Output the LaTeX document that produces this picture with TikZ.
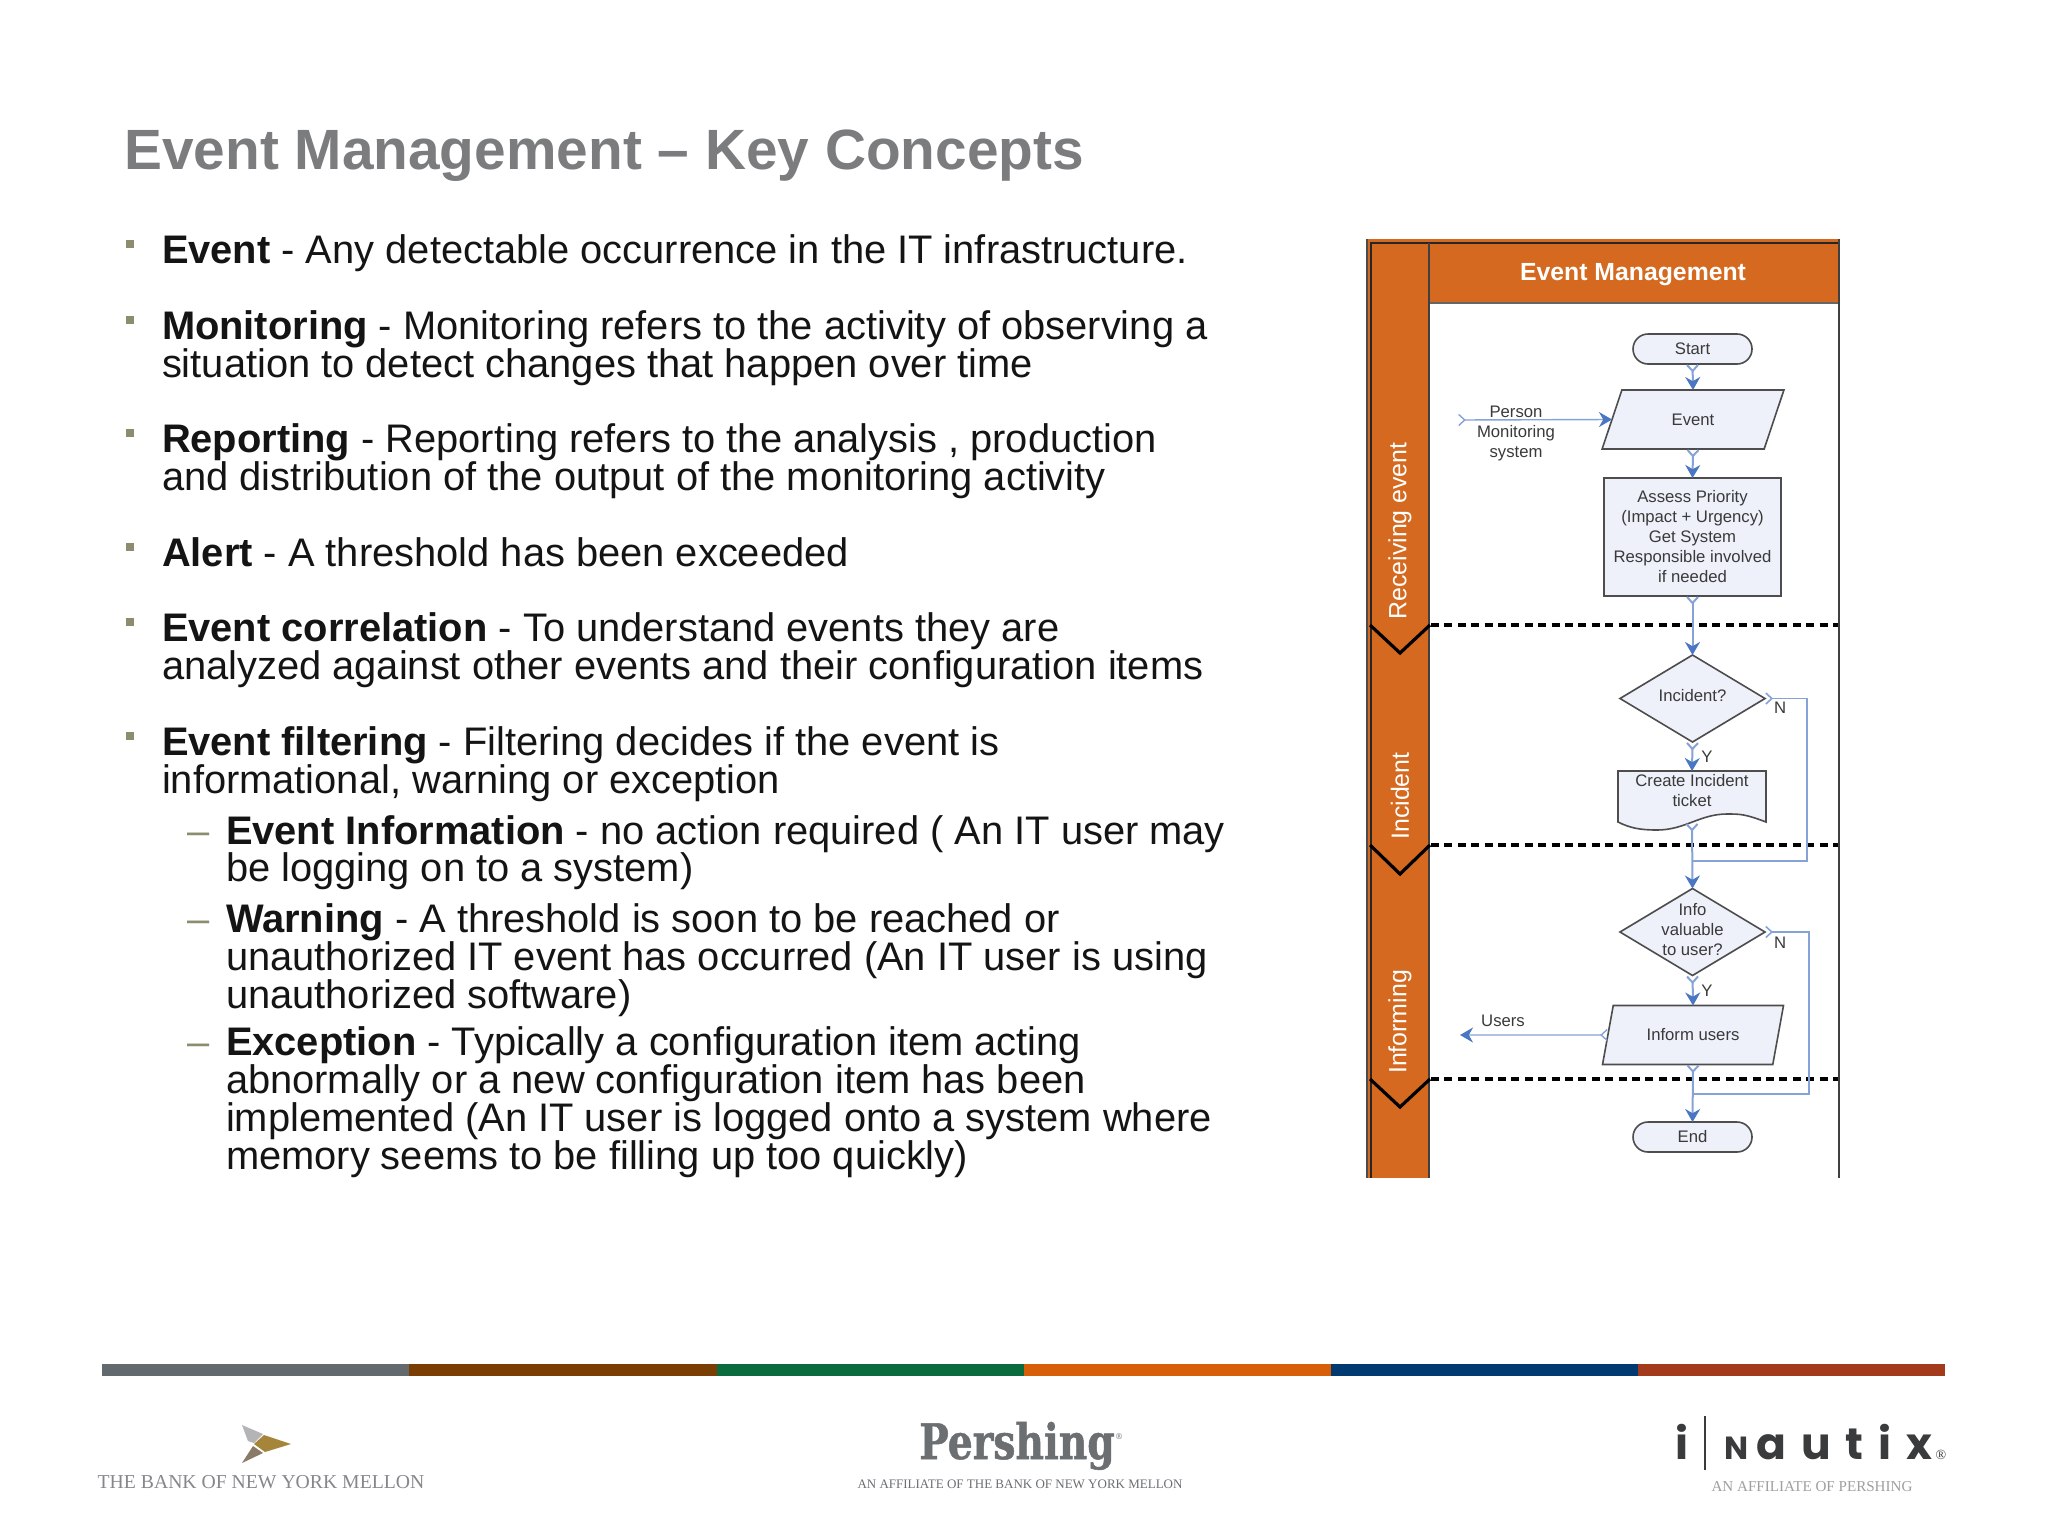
\documentclass[tikz,border=0pt]{standalone}
\usepackage{fontspec}
\setmainfont{Liberation Sans}
\newfontfamily\logoserif{Liberation Serif}
\newfontfamily\slabfont[FakeStretch=0.8,FakeBold=1]{DejaVu Serif Bold}
\newfontfamily\slabsmall{DejaVu Serif}
\newfontfamily\nautixfont{Poppins}
\usetikzlibrary{shapes.geometric,shapes.misc,arrows.meta}
\definecolor{titlegray}{HTML}{7A7C7E}
\definecolor{bodyblack}{HTML}{141414}
\definecolor{bulletc}{HTML}{8C8C6E}
\definecolor{laneorange}{HTML}{D4691F}
\definecolor{shapefill}{HTML}{EEF0FA}
\definecolor{shapeline}{HTML}{4D4D4D}
\definecolor{flowc}{HTML}{86A3D8}
\definecolor{tipc}{HTML}{4A77C4}
\definecolor{flowtext}{HTML}{3A3A3A}
\definecolor{logogray}{HTML}{85878A}
\definecolor{pershgray}{HTML}{6B6F72}
\definecolor{barA}{HTML}{636A6D}
\definecolor{barB}{HTML}{7A3E05}
\definecolor{barC}{HTML}{0B6B3F}
\definecolor{barD}{HTML}{D85F0A}
\definecolor{barE}{HTML}{003A70}
\definecolor{barF}{HTML}{A33A1C}
\definecolor{wingA}{HTML}{B4B4B6}
\definecolor{wingB}{HTML}{A5853A}
\definecolor{wingC}{HTML}{8A7B68}
\definecolor{nautixc}{HTML}{3A3B3D}
\tikzset{
  x=0.5pt,y=-0.5pt,
  bodyline/.style={anchor=base west,inner sep=0pt,outer sep=0pt,yshift=-0.65pt,text=bodyblack,font=\fontsize{19.93}{22}\selectfont},
  bulletmark/.style={fill=bulletc,draw=none,minimum size=3.6pt,inner sep=0pt,outer sep=0pt},
  dashmark/.style={anchor=base west,inner sep=0pt,outer sep=0pt,yshift=-0.65pt,text=bulletc,font=\fontsize{19.93}{22}\selectfont},
  flowfont/.style={font=\fontsize{8.35}{10}\selectfont,text=flowtext,align=center},
  shapebase/.style={draw=shapeline,fill=shapefill,line width=0.8pt,inner sep=0pt,outer sep=0pt,flowfont},
  term/.style={shapebase,rounded rectangle,minimum width=59.5pt,minimum height=15pt},
  proc/.style={shapebase,rectangle,minimum width=88.5pt,minimum height=59pt},
  io/.style={shapebase,trapezium,trapezium stretches=true,trapezium left angle=63,trapezium right angle=117,minimum width=91pt,minimum height=29.5pt},
  dec/.style={shapebase,diamond,minimum width=72.5pt,minimum height=43.5pt},
  plainlabel/.style={inner sep=0pt,outer sep=0pt,flowfont},
  flowline/.style={draw=flowc,line width=1pt,{Straight Barb[reversed,length=3pt,width=5.5pt,color=flowc]}-{Stealth[length=6.5pt,width=7.5pt,color=tipc]}},
  flowthin/.style={draw=flowc,line width=0.7pt,{Straight Barb[reversed,length=3pt,width=5.5pt,color=flowc]}-{Stealth[length=6.5pt,width=7.5pt,color=tipc]}},
  routeline/.style={draw=flowc,line width=0.8pt,{Straight Barb[reversed,length=3pt,width=5.5pt,color=flowc]}-},
  lanelabel/.style={rotate=90,text=white,font=\fontsize{12.45}{14}\selectfont,inner sep=0pt,outer sep=0pt},
  lanedash/.style={black,line width=2pt,dash pattern=on 4pt off 2.7pt},
  chevron/.style={black,line width=1.6pt},
  logotext/.style={inner sep=0pt,outer sep=0pt,anchor=base},
}
\begin{document}
\begin{tikzpicture}
\useasboundingbox (0,0) rectangle (2048,1536);
\fill[white] (0,0) rectangle (2048,1536);
% title
\node[anchor=base west,inner sep=0pt,text=titlegray,font=\fontsize{28.4}{30}\selectfont\bfseries] (title) at (124,169) {Event Management – Key Concepts};
% bullets
\node[bulletmark] (b1) at (130,244) {};
\node[bulletmark] (b2) at (130,320) {};
\node[bulletmark] (b3) at (130,433) {};
\node[bulletmark] (b4) at (130,547) {};
\node[bulletmark] (b5) at (130,622) {};
\node[bulletmark] (b6) at (130,736) {};
\node[dashmark] (d1m) at (187,843) {–};
\node[dashmark] (d2m) at (187,931) {–};
\node[dashmark] (d3m) at (187,1054) {–};
% body text
\node[bodyline] (l1) at (162,262.6) {\textbf{Event} - Any detectable occurrence in the IT infrastructure.};
\node[bodyline] (l2) at (162,338) {\textbf{Monitoring} - Monitoring refers to the activity of observing a};
\node[bodyline] (l3) at (162,376) {situation to detect changes that happen over time};
\node[bodyline] (l4) at (162,451) {\textbf{Reporting} - Reporting refers to the analysis , production};
\node[bodyline] (l5) at (162,489) {and distribution of the output of the monitoring activity};
\node[bodyline] (l6) at (162,565) {\textbf{Alert} - A threshold has been exceeded};
\node[bodyline] (l7) at (162,640) {\textbf{Event correlation} - To understand events they are};
\node[bodyline] (l8) at (162,678) {analyzed against other events and their configuration items};
\node[bodyline] (l9) at (162,754) {\textbf{Event filtering} - Filtering decides if the event is};
\node[bodyline] (l10) at (162,792) {informational, warning or exception};
\node[bodyline] (l11) at (226,843) {\textbf{Event Information} - no action required ( An IT user may};
\node[bodyline] (l12) at (226,880) {be logging on to a system)};
\node[bodyline] (l13) at (226,931) {\textbf{Warning} - A threshold is soon to be reached or};
\node[bodyline] (l14) at (226,969) {unauthorized IT event has occurred (An IT user is using};
\node[bodyline] (l15) at (226,1007) {unauthorized software)};
\node[bodyline] (l16) at (226,1054) {\textbf{Exception} - Typically a configuration item acting};
\node[bodyline] (l17) at (226,1092) {abnormally or a new configuration item has been};
\node[bodyline] (l18) at (226,1130) {implemented (An IT user is logged onto a system where};
\node[bodyline] (l19) at (226,1168) {memory seems to be filling up too quickly)};
% swimlane frame
\fill[laneorange] (1367,239) rectangle (1430,1178);
\fill[laneorange] (1430,239) rectangle (1840,303);
\draw[black!85,line width=1pt] (1371,1178) -- (1371,243) -- (1839,243);
\draw[black!70,line width=0.8pt] (1367,239) -- (1367,1178);
\draw[black!75,line width=1pt] (1429,243) -- (1429,1178);
\draw[black!60,line width=0.6pt] (1430,303) -- (1839,303);
\draw[black!75,line width=0.8pt] (1839,239) -- (1839,1178);
\node[anchor=center,inner sep=0pt,text=white,font=\fontsize{12.4}{14}\selectfont\bfseries] (lanehead) at (1633,274.5) {Event Management};
\node[lanelabel] (lane1) at (1400,531) {Receiving event};
\node[lanelabel] (lane2) at (1400,796) {Incident};
\node[lanelabel] (lane3) at (1400,1022) {Informing};
% dividers
\draw[lanedash] (1431,625) -- (1838,625);
\draw[lanedash] (1431,845) -- (1838,845);
\draw[lanedash] (1431,1079) -- (1838,1079);
\draw[chevron] (1370,625) -- (1400,653) -- (1430,625);
\draw[chevron] (1370,845) -- (1400,874) -- (1430,845);
\draw[chevron] (1370,1079) -- (1400,1107) -- (1430,1079);
% flow nodes
\node[term] (start) at (1692.5,349) {Start};
\node[io] (event) at (1693,419.5) {Event};
\node[proc] (assess) at (1692.5,537) {\raisebox{1pt}{\parbox{88pt}{\centering Assess Priority\\(Impact + Urgency)\\Get System\\Responsible involved\\if needed}}};
\node[dec,label={[plainlabel,yshift=1.4pt]center:Incident?}] (inc) at (1692.5,698.5) {};
\path[draw=shapeline,fill=shapefill,line width=0.8pt] (1618,771) -- (1766,771) -- (1766,822)
  .. controls (1745,814) and (1740,814) .. (1727,814) .. controls (1700,814) and (1685,830) .. (1657,830)
  .. controls (1640,830) and (1630,828) .. (1618,822) -- cycle;
\node[plainlabel,minimum width=74pt,minimum height=26pt,label={[plainlabel,yshift=3.2pt]center:Create Incident\\ticket}] (ticket) at (1692,797) {};
\node[dec,label={[plainlabel,yshift=1pt]center:Info\\valuable\\to user?}] (info) at (1692.5,932) {};
\node[io] (inform) at (1693,1035) {Inform users};
\node[term] (finish) at (1692.5,1137) {End};
% free labels
\node[plainlabel] (people) at (1516,433) {Person\\Monitoring\\system};
\node[plainlabel] (userslbl) at (1503,1021) {Users};
\node[plainlabel] (n1) at (1780,708) {N};
\node[plainlabel] (y1) at (1707,757) {Y};
\node[plainlabel] (n2) at (1780,943) {N};
\node[plainlabel] (y2) at (1707,991) {Y};
% connector ends
\coordinate (inbound) at (1458,420);
\coordinate (outbound) at (1460,1035);
\coordinate (merge1) at (1693,861);
\coordinate (merge2) at (1693,1094);
% connectors
\draw[flowline] (start.south) -- (event.north);
\draw[flowline] (event.south) -- (assess.north);
\draw[flowline] (assess.south) -- (inc.north);
\draw[flowline] (inc.south) -- (ticket.north);
\draw[flowline] (ticket.south) -- (info.north);
\draw[flowline] (info.south) -- (inform.north);
\draw[flowline] (inform.south) -- (finish.north);
\draw[flowthin] (inbound) -- (event.west);
\draw[flowthin] (inform.west) -- (outbound);
\draw[routeline] (inc.east) -- (1807,698.5) |- (merge1);
\draw[routeline] (info.east) -- (1809,932) |- (merge2);
% bottom bar
\fill[barA] (102,1364) rectangle (409,1376);
\fill[barB] (409,1364) rectangle (717,1376);
\fill[barC] (717,1364) rectangle (1024,1376);
\fill[barD] (1024,1364) rectangle (1331,1376);
\fill[barE] (1331,1364) rectangle (1638,1376);
\fill[barF] (1638,1364) rectangle (1945,1376);
% BNY logo
\fill[wingA] (242,1425) -- (263,1434) -- (254,1443) -- (248,1441) -- cycle;
\fill[wingB] (264,1435) -- (291,1444) -- (265,1452) -- (254,1444) -- cycle;
\fill[wingC] (253,1446) -- (263,1453) -- (242,1463) -- cycle;
\node[logotext,text=logogray,font=\logoserif\fontsize{9.85}{12}\selectfont] (bny) at (261,1488) {THE BANK OF NEW YORK MELLON};
% Pershing logo
\node[logotext,text=pershgray,font=\slabfont\fontsize{24.5}{26}\selectfont] (persh) at (1017,1459) {Pershing};
\node[logotext,text=pershgray,font=\slabsmall\fontsize{4}{5}\selectfont] (pershr) at (1119,1439) {®};
\node[logotext,text=pershgray,font=\logoserif\fontsize{6.5}{8}\selectfont] (persub) at (1020,1488) {AN AFFILIATE OF THE BANK OF NEW YORK MELLON};
% iNautix logo
\node[inner sep=0pt,anchor=base,text=nautixc,font=\nautixfont\bfseries\fontsize{22}{24}\selectfont] (nai) at (1681.5,1459) {i};
\draw[nautixc,line width=1pt] (1705,1416) -- (1705,1470);
\node[inner sep=0pt,anchor=base west,text=nautixc,font=\nautixfont\bfseries\fontsize{22}{24}\selectfont\addfontfeature{LetterSpace=34}] (nautix) at (1724,1459) {{\fontsize{16}{18}\selectfont N}\kern4pt autix};
\node[logotext,text=nautixc,font=\logoserif\fontsize{7}{8}\selectfont] (nar) at (1941,1459) {®};
\node[logotext,text=logogray!80,font=\logoserif\fontsize{7.55}{9}\selectfont] (nasub) at (1812,1491) {AN AFFILIATE OF PERSHING};
\end{tikzpicture}
\end{document}
